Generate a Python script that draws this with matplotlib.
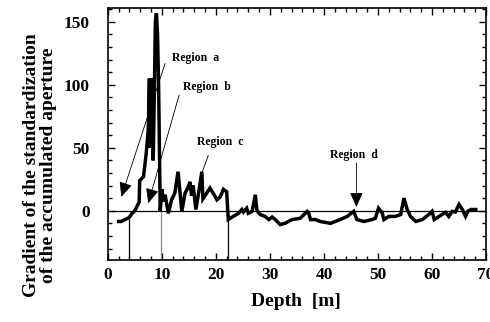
import numpy as np
import matplotlib.pyplot as plt

plt.rcParams['font.family'] = ['Liberation Serif', 'DejaVu Serif']
plt.rcParams['font.weight'] = 'bold'

# gradient of the standardized accumulated aperture vs depth
depth = [2.0, 2.5, 3.2, 3.9, 4.5, 5.0, 5.8, 5.9, 6.6, 7.1, 7.5, 7.7, 7.8, 8.0, 8.1, 8.3,
         8.4, 8.6, 8.8, 9.0, 9.2, 9.4, 9.55, 9.7, 9.8, 10.0, 10.3, 10.6, 11.2, 11.8, 12.4,
         13.0, 13.7, 14.3, 14.9, 15.2, 15.5, 15.8, 16.3, 16.8, 17.4, 17.6, 18.3, 18.9,
         19.5, 20.2, 20.8, 21.4, 22.0, 22.2, 22.3, 23.2, 24.2, 24.8, 25.1, 25.7, 26.0,
         26.7, 27.3, 27.6, 28.2, 29.1, 29.8, 30.4, 31.0, 31.9, 32.8, 34.1, 35.6, 36.9,
         37.2, 37.5, 38.4, 39.3, 41.2, 43.0, 44.3, 45.5, 46.1, 47.4, 48.9, 49.5, 50.1,
         50.8, 51.1, 52.0, 53.2, 54.2, 54.8, 55.4, 56.0, 57.0, 58.2, 59.4, 60.0, 60.4,
         61.3, 62.5, 63.1, 63.7, 64.3, 65.0, 65.6, 66.2, 66.6, 67.2, 68.1]
gradient = [-8.5, -8.5, -7, -5.5, -2, 0, 7, 24, 27, 45, 65, 105, 50, 103, 60, 105,
            40, 90, 150, 157, 140, 100, 50, 0, 5, 17, 7.4, 12.7, -2, 8.7, 14,
            31, -0.5, 14, 19, 23, 12, 20, 1, 14, 31, 9.5, 14, 18,
            14, 8.7, 11, 17, 15, 0, -7, -4.5, -2, 1, -1, 2, -2,
            -0.5, 12.7, 0, -3, -4.5, -7, -5, -7, -11, -10, -7, -6, -0.5,
            -2, -7, -7, -8.5, -10, -7, -4.5, -0.5, -7, -8.5, -7, -6, 2,
            -2, -7, -4.5, -4.5, -3, 10, 1, -4.5, -8.5, -7, -3, -0.5, -7,
            -4.5, -1.3, -4.5, -0.5, -1, 5, 1, -4.5, -0.5, 1, 1]

# boundary markers: (depth, top of line, colour)
marker_x = [4.0, 9.8, 22.2]
marker_top = [-6.5, 0, -7]
marker_col = ['black', '0.55', 'black']

fig = plt.figure(figsize=(4.9, 3.22), dpi=100)
ax = fig.add_axes([0.220, 0.193, 0.772, 0.782])

ax.axhline(0, color='black', lw=0.9)
for x, top, c in zip(marker_x, marker_top, marker_col):
    ax.vlines(x, -39, top, color=c, lw=0.9)
ax.plot(depth, gradient, color='black', lw=2.5, solid_joinstyle='miter')

ax.set_xlim(0, 70)
ax.set_ylim(-39, 161)
ax.set_xticks(np.arange(0, 71, 10))
ax.set_xticks(np.arange(0, 71, 2), minor=True)
ax.set_yticks([0, 50, 100, 150])
ax.set_yticks(np.arange(-30, 161, 10), minor=True)
ax.tick_params(which='both', direction='in', top=True, right=True, width=1)
ax.tick_params(which='major', length=5, labelsize=12.5)
ax.tick_params(which='minor', length=3)
ax.tick_params(axis='y', pad=13)
ax.tick_params(axis='x', pad=5)
for s in ax.spines.values():
    s.set_linewidth(1.2)

fig.text(296 / 490, 1 - 302 / 322, 'Depth  [m]', ha='center', va='center', fontsize=14)
fig.text(40 / 490, 1 - 165 / 322,
         'Gradient of the standardization\nof the accumulated aperture',
         rotation=90, ha='center', va='center', fontsize=14, multialignment='center',
         linespacing=1.05)

arrow = dict(arrowstyle='-|>,head_length=0.9,head_width=0.4', color='black', lw=0.6,
             shrinkA=0, shrinkB=0)
ax.annotate('', xy=(2.5, 11), xytext=(10.6, 117), arrowprops=arrow)
ax.annotate('', xy=(7.5, 6), xytext=(13.2, 92), arrowprops=arrow)
ax.annotate('', xy=(17.4, 30), xytext=(18.6, 44),
            arrowprops=dict(arrowstyle='-', color='black', lw=0.6, shrinkA=0, shrinkB=0))
ax.annotate('', xy=(46.0, 3), xytext=(46.0, 38), arrowprops=arrow)

label_kw = dict(fontsize=8.5, ha='left', va='center')
ax.text(11.9, 121, 'Region  a', **label_kw)
ax.text(13.9, 98, 'Region  b', **label_kw)
ax.text(16.5, 55, 'Region  c', **label_kw)
ax.text(41.2, 44, 'Region  d', **label_kw)

fig.savefig('out.png', dpi=100)
